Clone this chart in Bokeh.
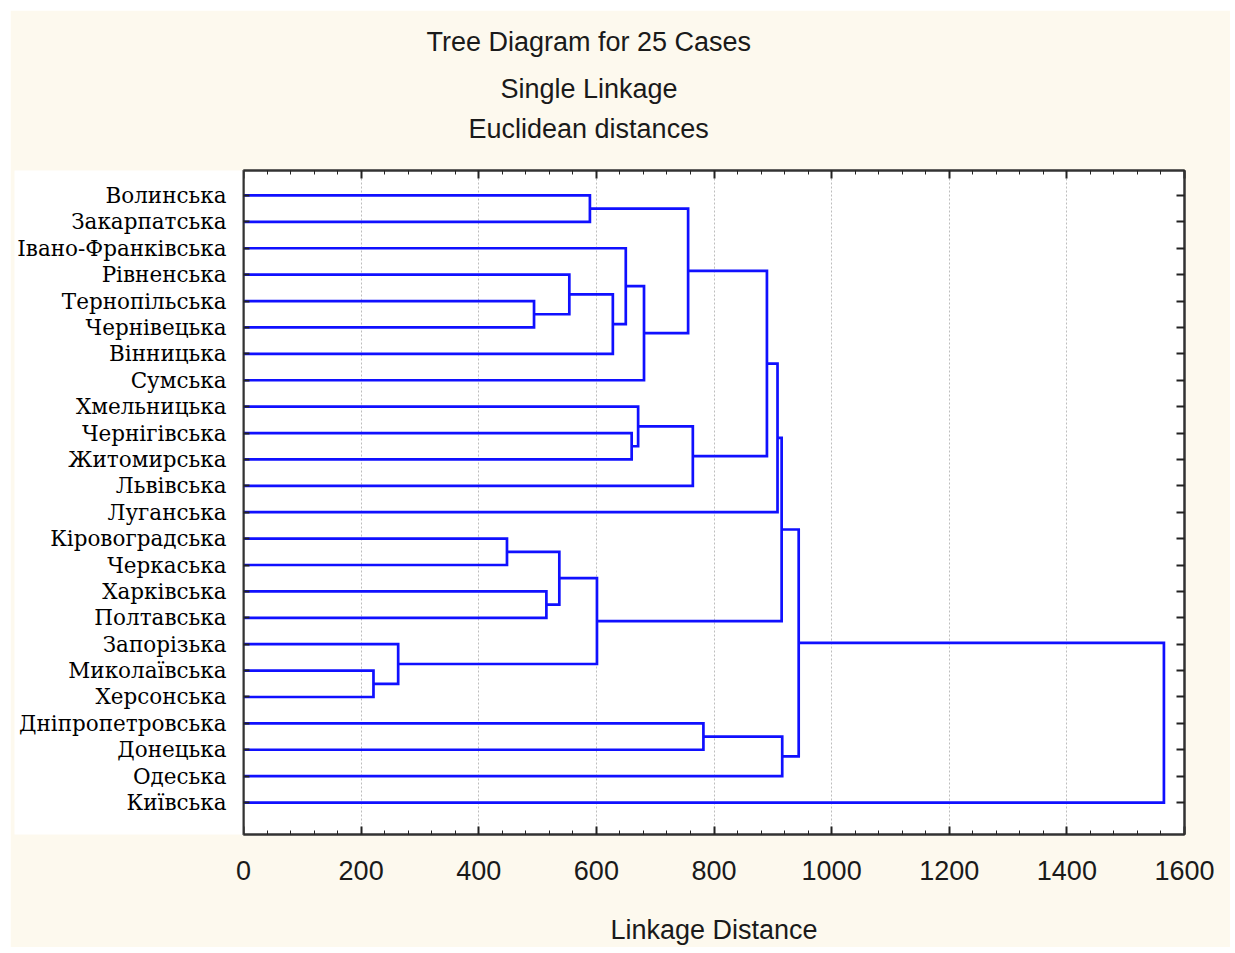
from bokeh.plotting import figure
from bokeh.models import (Range1d, FixedTicker, LinearAxis, Title, ColumnDataSource)
from bokeh.embed import file_html
from bokeh.resources import INLINE

# ---------------- data ----------------
regions = ["Волинська", "Закарпатська", "Івано-Франківська", "Рівненська",
           "Тернопільська", "Чернівецька", "Вінницька", "Сумська",
           "Хмельницька", "Чернігівська", "Житомирська", "Львівська",
           "Луганська", "Кіровоградська", "Черкаська", "Харківська",
           "Полтавська", "Запорізька", "Миколаївська", "Херсонська",
           "Дніпропетровська", "Донецька", "Одеська", "Київська"]

# merges: new cluster id = 24 + index
merge_left = [18, 17, 13, 4, 15, 26, 3, 0, 29, 30, 2, 9, 8, 34, 31, 36, 20,
              38, 41, 42, 40, 43, 45]
merge_right = [19, 24, 14, 5, 16, 28, 27, 1, 25, 6, 33, 10, 35, 7, 37, 11, 21,
               39, 12, 32, 22, 44, 23]
merge_dist = [221, 263, 448, 494, 515, 537, 554, 589, 601, 628, 650, 660, 671,
              681, 756, 764, 782, 890, 908, 915, 916, 944, 1565]

x_ticks = [0, 200, 400, 600, 800, 1000, 1200, 1400, 1600]
title_lines = ["Tree Diagram for 25 Cases", "Single Linkage", "Euclidean distances"]
x_label = "Linkage Distance"

# ---------------- dendrogram geometry ----------------
n = len(regions)
pos = {i: (i + 1.0, 0.0) for i in range(n)}  # cluster -> (row, height)
xs, ys = [], []
for k, (a, b, d) in enumerate(zip(merge_left, merge_right, merge_dist)):
    ya, ha = pos[a]
    yb, hb = pos[b]
    xs.append([ha, d, d, hb])
    ys.append([ya, ya, yb, yb])
    pos[n + k] = ((ya + yb) / 2.0, d)

src = ColumnDataSource(dict(xs=xs, ys=ys))

SANS = "Liberation Sans"
SERIF = "DejaVu Serif"

p = figure(width=1220, height=937, output_backend="svg", toolbar_location=None,
           x_range=Range1d(x_ticks[0], x_ticks[-1]), y_range=Range1d(25.21, 0.054),
           x_axis_location=None, y_axis_location=None,
           min_border_left=233, min_border_right=46, min_border_top=160,
           min_border_bottom=112)
p.margin = (10, 5, 6, 10)
p.border_fill_color = "#fdf9ee"
p.background_fill_color = "white"
p.outline_line_color = "#333333"
p.outline_line_width = 2

p.multi_line(xs="xs", ys="ys", source=src, line_color="#1010ff", line_width=2.7,
             line_join="miter")

# grid
p.xgrid.ticker = FixedTicker(ticks=x_ticks)
p.xgrid.grid_line_color = "#bdbdbd"
p.xgrid.grid_line_dash = "2 2"
p.xgrid.grid_line_width = 1
p.ygrid.grid_line_color = None

minor = [x_ticks[i] + j * (x_ticks[1] - x_ticks[0]) / 5
         for i in range(len(x_ticks) - 1) for j in range(1, 5)]


def style_x(ax, show_labels):
    ax.ticker = FixedTicker(ticks=x_ticks, minor_ticks=minor)
    ax.major_tick_in = 8
    ax.major_tick_out = 0
    ax.minor_tick_in = 4
    ax.minor_tick_out = 0
    ax.axis_line_color = "#333333"
    ax.axis_line_width = 2
    ax.major_tick_line_color = "#222222"
    ax.minor_tick_line_color = "#222222"
    ax.major_tick_line_width = 2
    if show_labels:
        ax.major_label_text_font = SANS
        ax.major_label_text_font_size = "27px"
        ax.major_label_text_color = "#1a1a1a"
        ax.major_label_standoff = 26
        ax.axis_label = x_label
        ax.axis_label_text_font = SANS
        ax.axis_label_text_font_size = "27px"
        ax.axis_label_text_font_style = "normal"
        ax.axis_label_text_color = "#1a1a1a"
        ax.axis_label_standoff = 32
    else:
        ax.major_label_overrides = {t: "" for t in x_ticks}
        ax.major_label_standoff = 0


def style_y(ax, show_labels):
    ax.ticker = FixedTicker(ticks=list(range(1, n + 1)))
    ax.major_tick_in = 6 if show_labels else 8
    ax.major_tick_out = 0
    ax.minor_tick_line_color = None
    ax.axis_line_color = "#333333"
    ax.axis_line_width = 2
    ax.major_tick_line_color = "#222222"
    ax.major_tick_line_width = 2
    if show_labels:
        ax.major_label_overrides = {i + 1: name for i, name in enumerate(regions)}
        ax.major_label_text_font = SERIF
        ax.major_label_text_font_size = "21.5px"
        ax.major_label_text_color = "black"
        ax.major_label_standoff = 17
        try:
            ax.background_fill_color = "white"
        except Exception:
            pass
    else:
        ax.major_label_overrides = {i + 1: "" for i in range(n)}


xb = LinearAxis(); style_x(xb, True); p.add_layout(xb, "below")
xt = LinearAxis(); style_x(xt, False); p.add_layout(xt, "above")
yl = LinearAxis(); style_y(yl, True); p.add_layout(yl, "left")
yr = LinearAxis(); style_y(yr, False); p.add_layout(yr, "right")

# spacer between the frame and the title block
p.add_layout(Title(text=" ", text_font_size="10px", standoff=14), "above")

# titles stacked above the frame (innermost first); left-aligned with pixel offsets
title_offsets = {2: 225, 1: 257, 0: 183}
title_standoffs = {2: 0, 1: 15, 0: 16}
for idx in (2, 1, 0):
    p.add_layout(Title(text=title_lines[idx], align="left",
                       offset=title_offsets[idx], standoff=title_standoffs[idx],
                       text_font=SANS, text_font_size="27px",
                       text_font_style="normal", text_color="#1a1a1a"),
                 "above")

open("out.html", "w").write(file_html(p, INLINE))
